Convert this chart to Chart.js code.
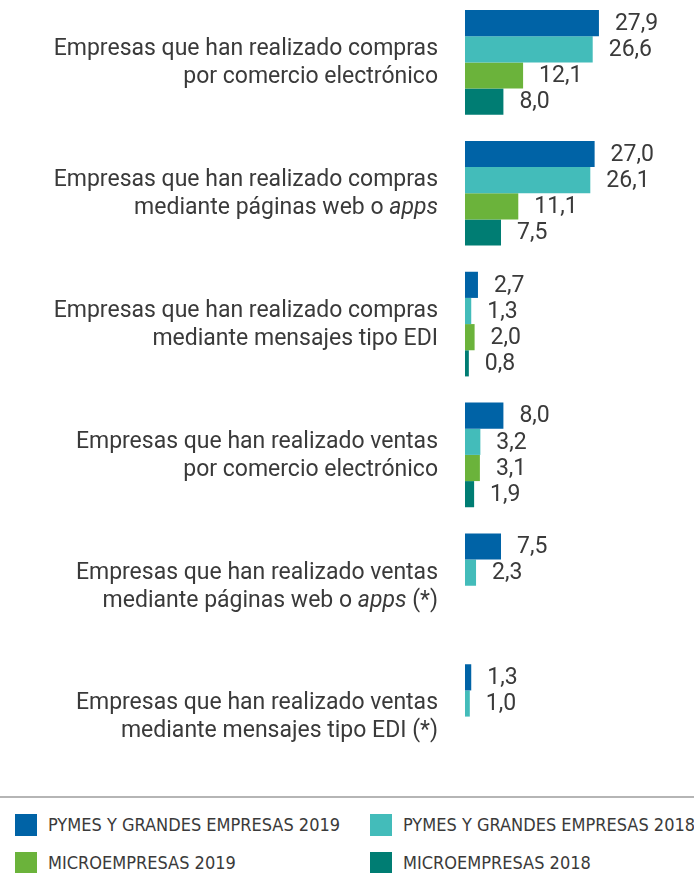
<!DOCTYPE html>
<html>
<head>
<meta charset="utf-8">
<script src="https://cdn.jsdelivr.net/npm/chart.js@4"></script>
<style>
  body { margin: 0; background: #fff; width: 694px; height: 873px; overflow: hidden; font-family: Roboto, sans-serif; }
  .wrap { position: relative; width: 694px; height: 785px; margin-top: -3px; }
  hr { position: absolute; top: 796px; left: 0; width: 694px; margin: 0; border: 0; border-top: 2px solid #b5b5b5; }
  .legend { position: absolute; top: 814px; left: 0; width: 694px; color: #3a3a3a; font-family: "DejaVu Sans Condensed", "Liberation Sans Narrow", Roboto, sans-serif; font-size: 18px; }
  .item { position: absolute; height: 22px; line-height: 22px; white-space: nowrap; }
  .item span.box { display: inline-block; width: 22px; height: 22px; vertical-align: top; margin-right: 11px; }
</style>
</head>
<body>
<div class="wrap"><canvas id="chart" width="694" height="785"></canvas></div>
<hr>
<div class="legend" id="legend"></div>
<script>
// two lines per category, _word_ = italic
const categories = [
  ["Empresas que han realizado compras", "por comercio electrónico"],
  ["Empresas que han realizado compras", "mediante páginas web o _apps_"],
  ["Empresas que han realizado compras", "mediante mensajes tipo EDI"],
  ["Empresas que han realizado ventas", "por comercio electrónico"],
  ["Empresas que han realizado ventas", "mediante páginas web o _apps_ (*)"],
  ["Empresas que han realizado ventas", "mediante mensajes tipo EDI (*)"]
]
const seriesNames = ["PYMES Y GRANDES EMPRESAS 2019", "PYMES Y GRANDES EMPRESAS 2018", "MICROEMPRESAS 2019", "MICROEMPRESAS 2018"]
const pymes2019 = [27.9, 27.0, 2.7, 8.0, 7.5, 1.3]
const pymes2018 = [26.6, 26.1, 1.3, 3.2, 2.3, 1.0]
const micro2019 = [12.1, 11.1, 2.0, 3.1, null, null]
const micro2018 = [8.0, 7.5, 0.8, 1.9, null, null]
const colors = ["#0063a6", "#43bcba", "#6bb33b", "#007d73"]

const textColor = "#3a3a3a"
const labelFont = "23px Roboto"

const valueLabels = {
  id: "valueLabels",
  afterDatasetsDraw(chart) {
    const ctx = chart.ctx
    ctx.save()
    ctx.font = labelFont
    ctx.fillStyle = textColor
    ctx.textAlign = "left"
    ctx.textBaseline = "middle"
    chart.data.datasets.forEach((ds, i) => {
      chart.getDatasetMeta(i).data.forEach((bar, j) => {
        const v = ds.data[j]
        if (v == null) return
        ctx.fillText(v.toFixed(1).replace(".", ","), bar.x + 16, bar.y + 1)
      })
    })
    ctx.restore()
  }
}

const categoryLabels = {
  id: "categoryLabels",
  afterDraw(chart) {
    const ctx = chart.ctx
    const y = chart.scales.y
    ctx.save()
    ctx.fillStyle = textColor
    ctx.textBaseline = "middle"
    ctx.textAlign = "left"
    categories.forEach((lines, i) => {
      const cy = y.getPixelForValue(i) + 1
      lines.forEach((line, k) => {
        const parts = line.split("_")
        let total = 0
        parts.forEach((p, n) => {
          ctx.font = (n % 2 ? "italic " : "") + labelFont
          total += ctx.measureText(p).width
        })
        let x = 438 - total
        parts.forEach((p, n) => {
          ctx.font = (n % 2 ? "italic " : "") + labelFont
          ctx.fillText(p, x, cy + (k ? 14 : -14))
          x += ctx.measureText(p).width
        })
      })
    })
    ctx.restore()
  }
}

new Chart(document.getElementById("chart"), {
  type: "bar",
  data: {
    labels: categories.map(c => c.join(" ")),
    datasets: [pymes2019, pymes2018, micro2019, micro2018].map((d, i) => ({
      label: seriesNames[i],
      data: d,
      backgroundColor: colors[i],
      categoryPercentage: 0.8,
      barPercentage: 1.0
    }))
  },
  options: {
    indexAxis: "y",
    responsive: false,
    animation: false,
    layout: { padding: { left: 465, right: 0, top: 0, bottom: 0 } },
    scales: {
      x: { display: false, min: 0, max: 47.7 },
      y: { display: false }
    },
    plugins: {
      legend: { display: false },
      tooltip: { enabled: false }
    }
  },
  plugins: [valueLabels, categoryLabels]
})

// html legend in two columns
const legendPos = [[15, 0], [370, 0], [15, 38], [370, 38]]
const legend = document.getElementById("legend")
seriesNames.forEach((name, i) => {
  const el = document.createElement("div")
  el.className = "item"
  el.style.left = legendPos[i][0] + "px"
  el.style.top = legendPos[i][1] + "px"
  el.innerHTML = '<span class="box" style="background:' + colors[i] + '"></span>' + name
  legend.appendChild(el)
})
</script>
</body>
</html>
